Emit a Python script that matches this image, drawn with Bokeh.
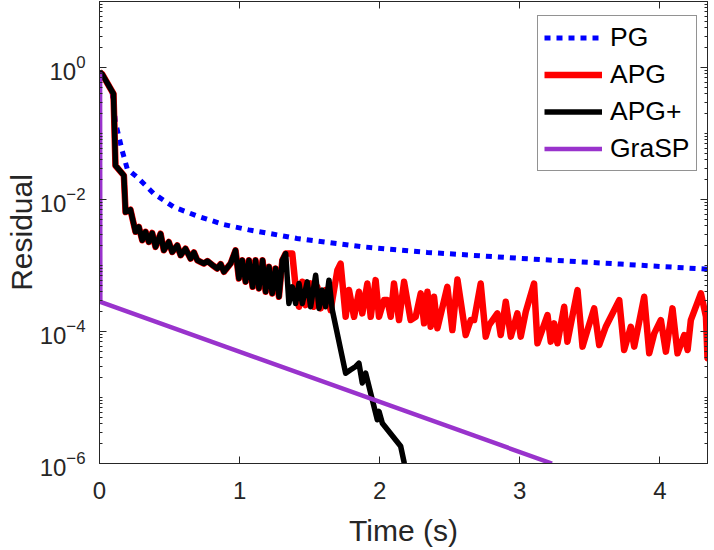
from bokeh.plotting import figure
from bokeh.models import Range1d, FixedTicker, LinearAxis, LogAxis, Legend, LegendItem
from bokeh.embed import file_html
from bokeh.resources import INLINE

# ---------------- data ----------------
# PG (proximal gradient)
pg_time = [0.0, 0.02, 0.09, 0.105, 0.114, 0.162, 0.198, 0.281, 0.388, 0.531,
           0.698, 0.888, 1.066, 1.41, 1.89, 2.34, 3.01, 3.72, 4.34]
pg_res = [0.851, 0.794, 0.417, 0.224, 0.148, 0.0550, 0.0292, 0.0206, 0.01225, 0.00767,
          0.00562, 0.00417, 0.00347, 0.00257, 0.00191, 0.00158, 0.00128, 0.00105, 0.000879]

# common early part of APG and APG+
early_time = [0.0, 0.019, 0.10, 0.114, 0.174, 0.186, 0.221, 0.257, 0.281, 0.305,
              0.329, 0.352, 0.376, 0.400, 0.436, 0.459, 0.495, 0.519, 0.555, 0.579,
              0.614, 0.650, 0.674, 0.698, 0.745, 0.77, 0.81, 0.840, 0.865, 0.888,
              0.936, 0.971, 0.995, 1.019, 1.043, 1.067, 1.093, 1.114, 1.138, 1.164,
              1.186, 1.21, 1.233, 1.257, 1.281, 1.305, 1.329]
early_res = [0.851, 0.794, 0.398, 0.0327, 0.0231, 0.00646, 0.0070, 0.00324, 0.00383, 0.00241,
             0.00324, 0.00227, 0.00311, 0.00191, 0.00303, 0.00170, 0.00227, 0.00160, 0.00202, 0.00143,
             0.00180, 0.00127, 0.00158, 0.00120, 0.00107, 0.00117, 0.00100, 0.000900, 0.00105, 0.000802,
             0.00107, 0.00170, 0.000635, 0.00120, 0.000566, 0.00120, 0.000475, 0.00120, 0.000449, 0.00120,
             0.000400, 0.000955, 0.000377, 0.000900, 0.000336, 0.00120, 0.00152]

# APG continuation
apg_time = [1.376, 1.40, 1.424, 1.448, 1.471, 1.507, 1.531, 1.555, 1.579, 1.614,
            1.65, 1.698, 1.721, 1.757, 1.781, 1.817, 1.852, 1.876, 1.912, 1.936,
            1.971, 1.995, 2.031, 2.055, 2.079, 2.102, 2.138, 2.174, 2.221, 2.257,
            2.293, 2.317, 2.341, 2.364, 2.388, 2.412, 2.483, 2.519, 2.555, 2.614,
            2.650, 2.674, 2.721, 2.757, 2.781, 2.840, 2.864, 2.900, 2.936, 2.983,
            3.007, 3.043, 3.067, 3.102, 3.126, 3.198, 3.221, 3.245, 3.269, 3.317,
            3.340, 3.412, 3.448, 3.483, 3.531, 3.567, 3.614, 3.710, 3.745, 3.793,
            3.817, 3.888, 3.924, 3.960, 4.007, 4.043, 4.090, 4.126, 4.174, 4.198,
            4.221, 4.293, 4.329, 4.340, 4.36]
apg_res = [0.00152, 0.000475, 0.000237, 0.000566, 0.000251, 0.000535, 0.000237, 0.000475, 0.000224, 0.000424,
           0.000211, 0.000849, 0.00107, 0.000167, 0.000424, 0.000167, 0.000400, 0.000188, 0.000533, 0.000167,
           0.000600, 0.000167, 0.000299, 0.000299, 0.000167, 0.000533, 0.000149, 0.000566, 0.000149, 0.000167,
           0.000378, 0.000133, 0.000400, 0.000118, 0.000336, 0.000112, 0.000475, 0.000105, 0.000614, 8.85e-5,
           0.000149, 0.000149, 0.000533, 8.36e-5, 0.000125, 0.000188, 8.85e-5, 0.000282, 8.36e-5, 0.000188,
           8.36e-5, 0.000200, 0.000299, 0.000533, 6.62e-5, 0.000177, 7.02e-5, 0.000133, 6.62e-5, 0.000237,
           7.02e-5, 0.000424, 5.90e-5, 0.000105, 0.000224, 6.25e-5, 0.000118, 0.000299, 5.25e-5, 0.000118,
           5.90e-5, 0.000336, 4.68e-5, 9.38e-5, 0.000149, 4.95e-5, 0.000224, 4.68e-5, 8.85e-5, 5.25e-5,
           0.000149, 0.000378, 0.000168, 3.94e-5, 3.94e-5]

# APG+ continuation
apgp_time = [1.352, 1.376, 1.40, 1.424, 1.448, 1.483, 1.507, 1.543, 1.567, 1.59,
             1.614, 1.638, 1.662, 1.757, 1.793, 1.829, 1.852, 1.876, 1.90, 1.983,
             1.995, 2.019, 2.150, 2.174, 2.18]
apgp_res = [0.000266, 0.000475, 0.000266, 0.000535, 0.000266, 0.000566, 0.000237, 0.000714, 0.000224, 0.000424,
            0.000237, 0.000600, 0.000211, 2.33e-5, 2.63e-5, 2.95e-5, 3.31e-5, 1.66e-5, 2.34e-5, 4.60e-6,
            6.17e-6, 4.07e-6, 1.82e-6, 1.05e-6, 7.9e-7]

# GraSP
grasp_time = [0.004, 0.006, 3.23]
grasp_res = [0.84, 2.8e-4, 1.0e-6]

x_ticks = [0, 1, 2, 3, 4]
y_ticks = [1e-6, 1e-4, 1e-2, 1e0]
y_minor = [k * 10.0 ** e for e in range(-6, 1) for k in range(1, 10)
           if not (k == 1 and e % 2 == 0)] + [1e1]

series_names = ["PG", "APG", "APG+", "GraSP"]

FONT = "Liberation Sans"
AX = "#262626"

p = figure(width=714, height=550, y_axis_type="log",
           x_range=Range1d(0, 4.34), y_range=Range1d(1e-6, 1e1),
           output_backend="svg", toolbar_location=None,
           min_border_left=99, min_border_right=7, min_border_top=1, min_border_bottom=87)
p.grid.visible = False
p.outline_line_color = AX
p.outline_line_width = 1
p.background_fill_color = "white"
p.border_fill_color = "white"


def style(ax, labels=True):
    ax.axis_line_color = AX
    ax.axis_line_width = 1
    ax.major_tick_in = 7
    ax.major_tick_out = 0
    ax.minor_tick_in = 3
    ax.minor_tick_out = 0
    ax.major_tick_line_color = AX
    ax.minor_tick_line_color = AX
    ax.major_label_text_font = FONT
    ax.axis_label_text_font = FONT
    ax.axis_label_text_font_size = "30px"
    ax.axis_label_text_font_style = "normal"
    ax.axis_label_text_color = AX
    if labels:
        ax.major_label_text_font_size = "24px"
        ax.major_label_text_color = AX
    else:
        ax.major_label_text_font_size = "1px"
        ax.major_label_text_color = None
        ax.major_label_standoff = 0


xax = p.xaxis[0]
xax.ticker = FixedTicker(ticks=x_ticks)
style(xax)
xax.major_label_standoff = 18
xax.axis_label = "Time (s)"
xax.axis_label_standoff = 12

yax = p.yaxis[0]
yax.ticker = FixedTicker(ticks=y_ticks, minor_ticks=y_minor)
style(yax)
yax.major_label_standoff = 14
yax.axis_label = "Residual"
yax.axis_label_standoff = -1

top = LinearAxis(ticker=FixedTicker(ticks=x_ticks))
style(top, labels=False)
p.add_layout(top, "above")

right = LogAxis(ticker=FixedTicker(ticks=y_ticks, minor_ticks=y_minor))
style(right, labels=False)
p.add_layout(right, "right")

apg_t = early_time + apg_time
apg_r = early_res + apg_res
apgp_t = early_time + apgp_time
apgp_r = early_res + apgp_res

r_pg = p.line(pg_time, pg_res, line_color="#0000FF", line_width=5, line_dash="6 6")
r_apg = p.line(apg_t, apg_r, line_color="#FF0000", line_width=6.5, line_join="round")
r_apgp = p.line(apgp_t, apgp_r, line_color="#000000", line_width=5.5, line_join="round")
r_gr = p.line(grasp_time, grasp_res, line_color="#9933CC", line_width=4.5)

legend = Legend(items=[LegendItem(label=n, renderers=[r]) for n, r in
                       zip(series_names, [r_pg, r_apg, r_apgp, r_gr])],
                location=(438, 292))
legend.label_text_font = FONT
legend.label_text_font_size = "26.5px"
legend.label_text_color = "#000000"
legend.glyph_width = 58
legend.glyph_height = 31
legend.label_height = 31
legend.label_standoff = 8
legend.spacing = 6
legend.padding = 6
legend.margin = 0
legend.border_line_color = AX
legend.border_line_width = 1
legend.background_fill_alpha = 1.0
p.add_layout(legend, "center")

open("out.html", "w").write(file_html(p, INLINE))
